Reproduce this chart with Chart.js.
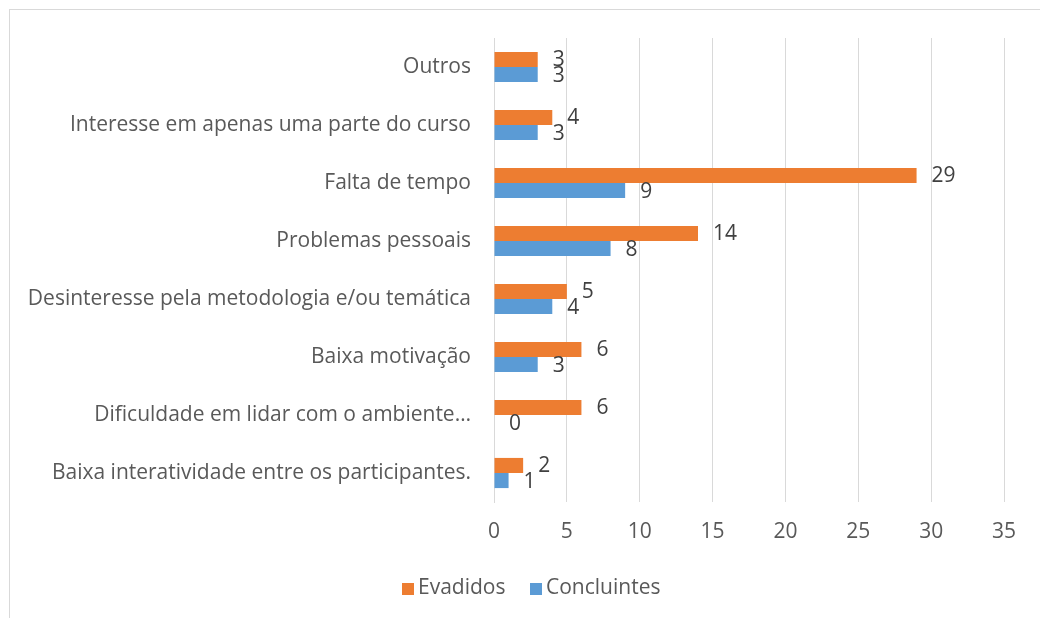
<!DOCTYPE html>
<html>
<head>
<meta charset="utf-8">
<script src="https://cdn.jsdelivr.net/npm/chart.js@4.4.1/dist/chart.umd.min.js"></script>
<style>
  html, body { margin: 0; padding: 0; background: #fff; overflow: hidden; }
  #frame { position: absolute; left: 9px; top: 9px; width: 2000px; height: 2000px;
           border-top: 1px solid #d9d9d9; border-left: 1px solid #d9d9d9; }
  #wrap { position: absolute; left: 0; top: 0; width: 1040px; height: 618px; }
  #legend { position: absolute; top: 572px; left: 0; height: 28px;
            font-family: 'Open Sans', sans-serif; font-size: 21px; color: #595959; }
  .item { position: absolute; top: 0; white-space: nowrap; line-height: 28px; }
  .box { display: inline-block; width: 12px; height: 12px; margin-right: 4px; vertical-align: -1px; }
</style>
</head>
<body>
<div id="frame"></div>
<div id="wrap"><canvas id="myChart" width="1040" height="618"></canvas></div>
<div id="legend"></div>
<script>
// categories, top to bottom
const categories = [
  "Outros",
  "Interesse em apenas uma parte do curso",
  "Falta de tempo",
  "Problemas pessoais",
  "Desinteresse pela metodologia e/ou temática",
  "Baixa motivação",
  "Dificuldade em lidar com o ambiente…",
  "Baixa interatividade entre os participantes."
];
const evadidos    = [3, 4, 29, 14, 5, 6, 6, 2];
const concluintes = [3, 3, 9, 8, 4, 3, 0, 1];
const xTicks = [0, 5, 10, 15, 20, 25, 30, 35];

const FONT = "'Open Sans', sans-serif";
const FSIZE = 21;

// value labels at the end of each bar
const barLabels = {
  id: "barLabels",
  afterDatasetsDraw(chart) {
    const ctx = chart.ctx;
    ctx.save();
    ctx.font = FSIZE + "px " + FONT;
    ctx.fillStyle = "#404040";
    ctx.textAlign = "left";
    ctx.textBaseline = "middle";
    chart.data.datasets.forEach((ds, i) => {
      chart.getDatasetMeta(i).data.forEach((bar, j) => {
        ctx.fillText(String(ds.data[j]), bar.x + 15, bar.y + 1);
      });
    });
    ctx.restore();
  }
};

const chart = new Chart(document.getElementById("myChart").getContext("2d"), {
  type: "bar",
  data: {
    labels: categories,
    datasets: [
      { label: "Evadidos", data: evadidos, backgroundColor: "#ED7D31", borderWidth: 0 },
      { label: "Concluintes", data: concluintes, backgroundColor: "#5B9BD5", borderWidth: 0 }
    ]
  },
  options: {
    indexAxis: "y",
    responsive: false,
    animation: false,
    layout: { padding: { top: 38, right: 36, bottom: 58, left: 0 } },
    datasets: { bar: { categoryPercentage: 0.52, barPercentage: 1.0 } },
    scales: {
      x: {
        min: 0, max: 35,
        afterBuildTicks: (s) => { s.ticks = xTicks.map(v => ({ value: v })); },
        afterFit: (s) => { s.height = 58; },
        grid: { color: "#d9d9d9", lineWidth: 1, drawTicks: false },
        border: { display: false },
        ticks: { color: "#595959", font: { family: FONT, size: FSIZE }, padding: 17 }
      },
      y: {
        afterFit: (s) => { s.width = 494; },
        grid: { display: false, drawTicks: false },
        border: { display: true, color: "#d9d9d9" },
        ticks: { color: "#595959", font: { family: FONT, size: FSIZE }, padding: 23, autoSkip: false }
      }
    },
    plugins: { legend: { display: false }, tooltip: { enabled: false } }
  },
  plugins: [barLabels]
});

// legend built from the datasets
const legendLeft = [402, 530];
const legend = document.getElementById("legend");
chart.data.datasets.forEach((ds, i) => {
  const it = document.createElement("div");
  it.className = "item";
  it.style.left = legendLeft[i] + "px";
  const b = document.createElement("span");
  b.className = "box";
  b.style.background = ds.backgroundColor;
  it.appendChild(b);
  it.appendChild(document.createTextNode(ds.label));
  legend.appendChild(it);
});
</script>
</body>
</html>
